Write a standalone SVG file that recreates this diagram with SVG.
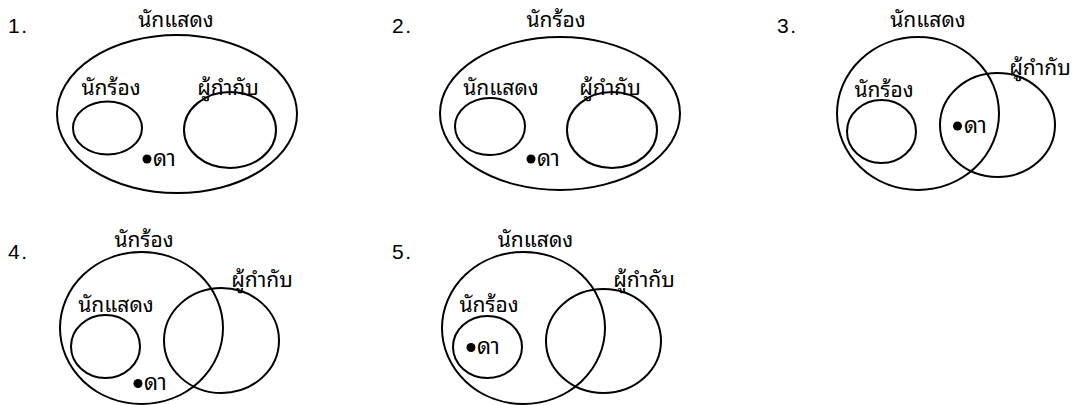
<svg xmlns="http://www.w3.org/2000/svg" width="1076" height="405" viewBox="0 0 1076 405">
<style>
.s{fill:none;stroke:#000;stroke-width:2}
.t{font-family:"Noto Sans Thai Looped","Noto Sans Thai","Noto Sans","DejaVu Sans",sans-serif;font-size:21px;fill:#000;text-anchor:middle}
.n{font-family:"Liberation Sans",Arial,sans-serif;font-size:21px;fill:#000;letter-spacing:1.5px}
.d{font-family:"Noto Sans Thai Looped","Noto Sans Thai","Noto Sans","DejaVu Sans",sans-serif;font-size:22px;fill:#000}
</style>
<rect width="1076" height="405" fill="#fff"/>
<g id="diagram1">
<text class="n" x="8" y="33">1.</text>
<g id="d1-actor"><ellipse class="s" cx="177" cy="114" rx="120" ry="79"/><text class="t" x="176" y="27">นักแสดง</text></g>
<g id="d1-singer"><ellipse class="s" cx="107.5" cy="128" rx="34.5" ry="26.5"/><text class="t" x="111" y="95">นักร้อง</text></g>
<g id="d1-director"><ellipse class="s" cx="230" cy="130" rx="46" ry="38"/><text class="t" x="228" y="95">ผู้กำกับ</text></g>
<g id="d1-da"><circle cx="147" cy="159" r="4.5"/><text class="d" x="153" y="166">ดา</text></g>
</g>
<g id="diagram2">
<text class="n" x="392" y="33">2.</text>
<g id="d2-singer"><ellipse class="s" cx="560" cy="113.5" rx="120" ry="76.5"/><text class="t" x="556" y="27">นักร้อง</text></g>
<g id="d2-actor"><ellipse class="s" cx="490" cy="126.5" rx="35" ry="28.5"/><text class="t" x="501" y="95">นักแสดง</text></g>
<g id="d2-director"><ellipse class="s" cx="612" cy="130" rx="45" ry="38"/><text class="t" x="610" y="95">ผู้กำกับ</text></g>
<g id="d2-da"><circle cx="531" cy="159" r="4.5"/><text class="d" x="537" y="166">ดา</text></g>
</g>
<g id="diagram3">
<text class="n" x="777" y="33">3.</text>
<g id="d3-actor"><ellipse class="s" cx="918" cy="113.5" rx="81" ry="76.5"/><text class="t" x="928" y="27">นักแสดง</text></g>
<g id="d3-singer"><ellipse class="s" cx="881.5" cy="131.5" rx="34.5" ry="31.5"/><text class="t" x="884" y="97">นักร้อง</text></g>
<g id="d3-director"><ellipse class="s" cx="997.5" cy="125" rx="57.5" ry="52"/><text class="t" x="1040" y="75">ผู้กำกับ</text></g>
<g id="d3-da"><circle cx="957.5" cy="126" r="4.5"/><text class="d" x="964" y="133">ดา</text></g>
</g>
<g id="diagram4">
<text class="n" x="8" y="259">4.</text>
<g id="d4-singer"><ellipse class="s" cx="141.5" cy="328" rx="81.5" ry="76"/><text class="t" x="144" y="247">นักร้อง</text></g>
<g id="d4-actor"><ellipse class="s" cx="105.5" cy="346.5" rx="34.5" ry="31.5"/><text class="t" x="116" y="312">นักแสดง</text></g>
<g id="d4-director"><ellipse class="s" cx="221.5" cy="340.5" rx="57.5" ry="52.5"/><text class="t" x="262" y="287">ผู้กำกับ</text></g>
<g id="d4-da"><circle cx="138" cy="383.5" r="4.5"/><text class="d" x="144" y="390">ดา</text></g>
</g>
<g id="diagram5">
<text class="n" x="392" y="259">5.</text>
<g id="d5-actor"><ellipse class="s" cx="523.5" cy="328" rx="81.5" ry="76"/><text class="t" x="535.5" y="247">นักแสดง</text></g>
<g id="d5-singer"><ellipse class="s" cx="487.5" cy="347" rx="34.5" ry="31"/><text class="t" x="489" y="312">นักร้อง</text></g>
<g id="d5-director"><ellipse class="s" cx="603.5" cy="341" rx="57.5" ry="52"/><text class="t" x="644" y="287">ผู้กำกับ</text></g>
<g id="d5-da"><circle cx="471" cy="347.5" r="4.5"/><text class="d" x="477" y="354">ดา</text></g>
</g>
</svg>
